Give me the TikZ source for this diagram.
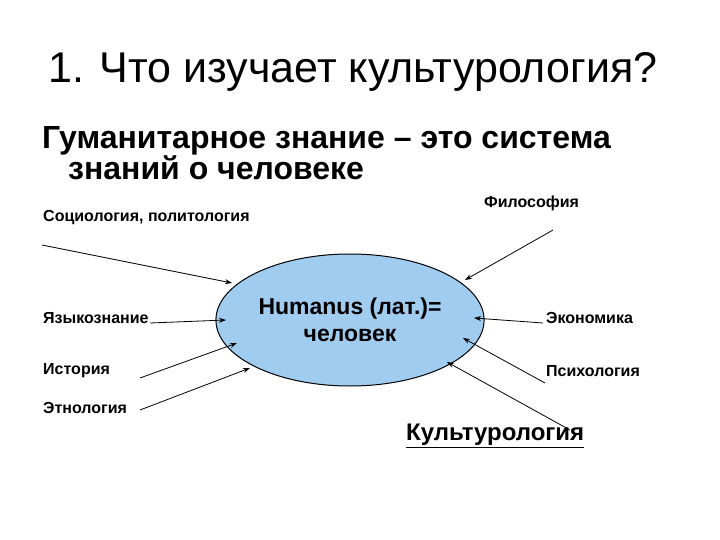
\documentclass[tikz,border=0pt]{standalone}
\usepackage{fontspec}
\usetikzlibrary{shapes.geometric,arrows.meta}
\setmainfont{Liberation Sans}
\definecolor{elfill}{RGB}{160,204,240}
\begin{document}
\begin{tikzpicture}[x=1pt,y=-1pt,
 lbl/.style={font=\fontsize{16}{18}\selectfont\bfseries,inner sep=1pt},
 arr/.style={-{Stealth[length=7pt,width=5pt]},line width=0.8pt}]
\useasboundingbox (0,0) rectangle (720,540);
\node[anchor=west,font=\fontsize{43}{48}\selectfont,inner sep=0] (title) at (48,72) {1. Что изучает культурология?};
\node[anchor=north west,align=left,font=\fontsize{32}{31}\selectfont\bfseries,inner sep=0] (sub) at (42,126) {Гуманитарное знание – это система\\\hspace*{26pt}знаний о человеке};
\node[draw,ellipse,fill=elfill,minimum width=240pt,minimum height=132pt,line width=1pt,align=center,font=\fontsize{23}{27}\selectfont\bfseries] (e) at (350,320) {Humanus (лат.)=\\человек};
\node[lbl,anchor=west] (soc) at (42,218) {Социология, политология};
\node[lbl,anchor=west] (yaz) at (42,318) {Языкознание};
\node[lbl,anchor=west] (ist) at (42,371) {История};
\node[lbl,anchor=west] (etn) at (42,408) {Этнология};
\node[lbl,anchor=west] (fil) at (483,203) {Философия};
\node[lbl,anchor=west] (eko) at (545,318) {Экономика};
\node[lbl,anchor=west] (psy) at (545,371) {Психология};
\node[anchor=west,font=\fontsize{24}{28}\selectfont\bfseries,inner sep=1pt] (kul) at (405,436) {\underline{Культурология}};
\coordinate (a1) at (42,245); \coordinate (a2) at (150,323);
\coordinate (a3) at (140,378); \coordinate (a4) at (140,410);
\coordinate (b1) at (553,230); \coordinate (b2) at (543,323);
\coordinate (b3) at (545,383); \coordinate (b4) at (570,430);
\draw[arr] (a1) -- (232,283);
\draw[arr] (a2) -- (226,320);
\draw[arr] (a3) -- (237,343);
\draw[arr] (a4) -- (250,368);
\draw[arr] (b1) -- (465,280);
\draw[arr] (b2) -- (474,318);
\draw[arr] (b3) -- (463,338);
\draw[arr] (b4) -- (447,362);
\end{tikzpicture}
\end{document}
